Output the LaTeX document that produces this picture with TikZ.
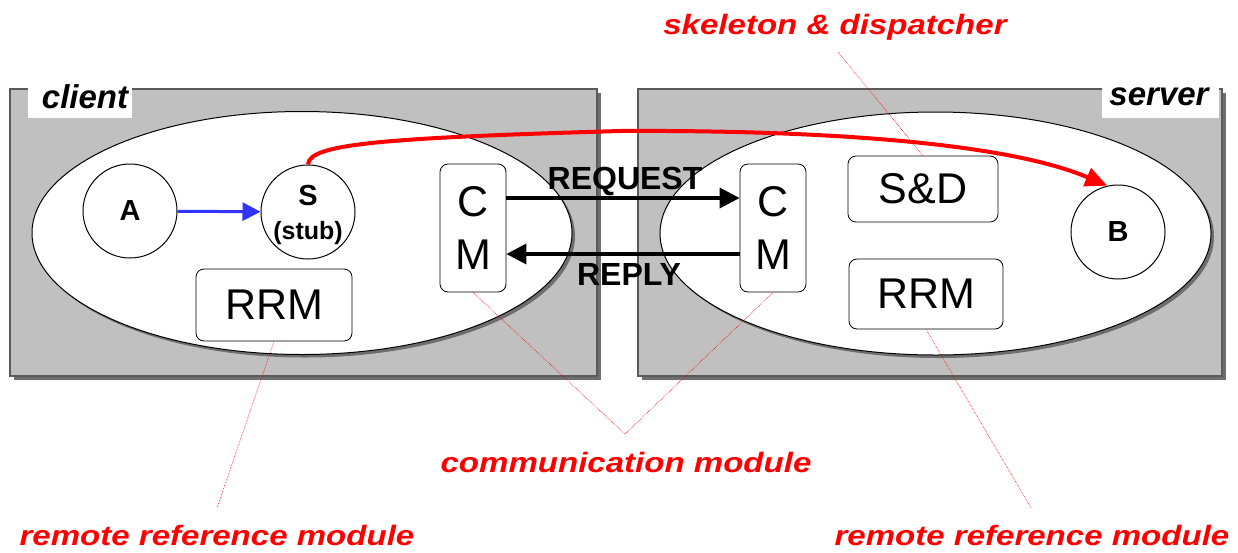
\documentclass[tikz,border=0pt]{standalone}
\usepackage{fontspec}
\setmainfont{Liberation Sans}
\usetikzlibrary{arrows.meta,shapes.geometric,shadows}

\definecolor{panelgray}{RGB}{192,192,192}
\definecolor{panelline}{RGB}{90,90,90}
\definecolor{shadowgray}{RGB}{110,110,110}
\definecolor{callblue}{RGB}{51,51,255}

% wide red caption text
\newcommand{\widecaption}[2][1.16]{\scalebox{#1}[1]{#2}}

\tikzset{
  panel/.style={draw=panelline, line width=1.2pt, fill=panelgray, inner sep=0pt,
    drop shadow={shadow xshift=4pt, shadow yshift=-4pt, fill=shadowgray, opacity=1}},
  process/.style={ellipse, draw=black, line width=1pt, fill=white, inner sep=0pt,
    drop shadow={shadow xshift=3pt, shadow yshift=-3pt, fill=shadowgray, opacity=1}},
  tagbox/.style={fill=white, inner sep=0pt},
  tag/.style={inner sep=0pt, font=\fontsize{33}{33}\selectfont\bfseries\itshape},
  obj/.style={circle, draw=black, line width=1pt, fill=white, inner sep=0pt, minimum size=94pt,
    font=\fontsize{29}{29}\selectfont\bfseries},
  module/.style={draw=black, line width=0.8pt, fill=white, rounded corners=8pt, inner sep=0pt,
    font=\fontsize{43}{53}\selectfont, align=center},
  msg/.style={font=\fontsize{32}{32}\selectfont\bfseries, inner sep=0pt},
  msgarrow/.style={line width=3.5pt, -{Triangle[length=20pt,width=20pt]}},
  note/.style={text=red, inner sep=0pt, font=\fontsize{28}{28}\selectfont\bfseries\itshape},
  pointer/.style={red, line width=0.6pt, densely dotted},
}

\begin{document}
\begin{tikzpicture}[x=1pt, y=-1pt]
\useasboundingbox (0,0) rectangle (1238,552);

% machines
\node[panel, minimum width=587pt, minimum height=287pt] (client) at (303.5,232.5) {};
\node[panel, minimum width=584pt, minimum height=287pt] (server) at (930,232.5) {};

% processes
\node[process, minimum width=540pt, minimum height=243pt] (cproc) at (302,233) {};
\node[process, minimum width=551pt, minimum height=243pt] (sproc) at (935.5,233.5) {};

% machine names
\node[tagbox, minimum width=104pt, minimum height=38pt] (clientbox) at (80,99) {};
\node[tag] (clientname) at (85,97) {client};
\node[tagbox, minimum width=117pt, minimum height=38pt] (serverbox) at (1160.5,99) {};
\node[tag] (servername) at (1159,97) {server};

% objects
\node[obj] (A) at (130,211) {A};
\node[obj] (S) at (308,212) {};
\node[font=\fontsize{29}{29}\selectfont\bfseries, inner sep=0pt] (Sname) at (308,196) {S};
\node[font=\fontsize{25}{25}\selectfont\bfseries, inner sep=0pt] (Sstub) at (308,233) {(stub)};
\node[obj] (B) at (1118,232) {B};

% modules
\node[module, minimum width=156pt, minimum height=72pt] (crrm) at (274,305) {RRM};
\node[module, minimum width=66pt, minimum height=128pt] (ccm) at (473,228) {C\\M};
\node[module, minimum width=66pt, minimum height=128pt] (scm) at (773,228) {C\\M};
\node[module, minimum width=150pt, minimum height=66pt] (sd) at (923,189) {S\&D};
\node[module, minimum width=154pt, minimum height=70pt] (srrm) at (926,294) {RRM};

% local call
\draw[callblue, line width=3pt, -{Triangle[length=18pt,width=18pt]}] (A) -- (S);

% messages
\draw[msgarrow] ([yshift=30pt]ccm.east) -- ([yshift=30pt]scm.west);
\draw[msgarrow] ([yshift=-26pt]scm.west) -- ([yshift=-26pt]ccm.east);
\node[msg] (reqlabel) at (625,181) {REQUEST};
\node[msg] (replabel) at (629,274) {REPLY};

% remote invocation
\draw[red, line width=4pt, -{Triangle[length=22pt,width=19pt]}]
  (S.north) .. controls (309,144) and (380,138) .. (620,131)
            .. controls (800,130) and (1000,140) .. (B.103);

% annotations
\node[note] (sdnote) at (835,27) {\widecaption[1.18]{skeleton \& dispatcher}};
\node[note] (cmnote) at (626,462) {\widecaption[1.18]{communication module}};
\node[note] (crrmnote) at (217,535) {\widecaption[1.18]{remote reference module}};
\node[note] (srrmnote) at (1032,535) {\widecaption[1.18]{remote reference module}};

\coordinate (sdend) at (838,52);
\coordinate (cmjoin) at (625,434);
\coordinate (crrmend) at (217,508);
\coordinate (srrmend) at (1031,508);

\draw[pointer] (sd.north) -- (sdend);
\draw[pointer] (ccm.south) -- (cmjoin) -- (scm.south);
\draw[pointer] (crrm.south) -- (crrmend);
\draw[pointer] (srrm.south) -- (srrmend);
\end{tikzpicture}
\end{document}
